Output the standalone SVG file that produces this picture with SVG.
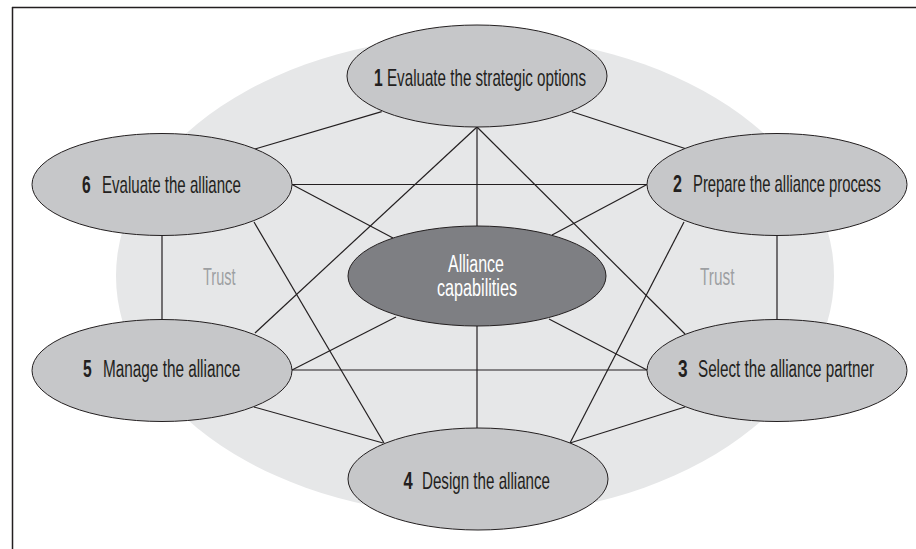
<svg xmlns="http://www.w3.org/2000/svg" width="916" height="549" viewBox="0 0 916 549">
<style>
.frame{stroke:#231f20;stroke-width:1.5;fill:none}
.bg{fill:#e6e7e8}
.conn line{stroke:#231f20;stroke-width:1.2}
.node{fill:#c6c7c9;stroke:#231f20;stroke-width:1}
.core{fill:#7e7f83;stroke:#231f20;stroke-width:1}
text{font-family:"Liberation Sans",Arial,sans-serif;font-size:23px}
.lbl{fill:#231f20}
.num{fill:#231f20;font-weight:bold}
.white{fill:#ffffff;text-anchor:middle}
.trust{fill:#9d9fa2}
</style>
<rect width="916" height="549" fill="#ffffff"/>
<line class="frame" x1="12" y1="7.5" x2="916" y2="7.5"/>
<line class="frame" x1="12.5" y1="7" x2="12.5" y2="549"/>
<ellipse class="bg" cx="475" cy="276" rx="359" ry="240"/>
<text class="trust" transform="translate(203,285) scale(0.63,1)" x="0" y="0">Trust</text>
<text class="trust" transform="translate(700,285) scale(0.668,1)" x="0" y="0">Trust</text>
<g id="connectors" class="conn">
<line x1="381.7" y1="111.7" x2="255" y2="149"/>
<line x1="572" y1="111.7" x2="685" y2="148.5"/>
<line x1="477" y1="127" x2="477" y2="226"/>
<line x1="477" y1="127" x2="255" y2="333"/>
<line x1="477" y1="127" x2="685" y2="334"/>
<line x1="292" y1="184.5" x2="647" y2="184.5"/>
<line x1="292" y1="184.5" x2="393" y2="238"/>
<line x1="254" y1="222" x2="384" y2="443"/>
<line x1="162" y1="236" x2="162" y2="319"/>
<line x1="647" y1="184.5" x2="552" y2="235"/>
<line x1="684" y1="222" x2="570" y2="443"/>
<line x1="777" y1="236" x2="777" y2="320"/>
<line x1="292" y1="370" x2="396" y2="317"/>
<line x1="292" y1="370" x2="647" y2="370"/>
<line x1="254" y1="407" x2="383" y2="443"/>
<line x1="647" y1="370" x2="549" y2="319"/>
<line x1="685" y1="407" x2="570" y2="443"/>
<line x1="477" y1="326" x2="477" y2="428"/>
</g>
<g id="node1">
<ellipse class="node" cx="477" cy="76" rx="130" ry="51"/>
<text class="num" transform="translate(374,86) scale(0.68,1)" x="0" y="0">1</text>
<text class="lbl" transform="translate(387,86) scale(0.66,1)" x="0" y="0">Evaluate the strategic options</text>
</g>
<g id="node2">
<ellipse class="node" cx="777" cy="184.5" rx="130" ry="51"/>
<text class="num" transform="translate(673,192) scale(0.7,1)" x="0" y="0">2</text>
<text class="lbl" transform="translate(693,192) scale(0.645,1)" x="0" y="0">Prepare the alliance process</text>
</g>
<g id="node3">
<ellipse class="node" cx="777" cy="370.5" rx="130" ry="51"/>
<text class="num" transform="translate(678,377) scale(0.75,1)" x="0" y="0">3</text>
<text class="lbl" transform="translate(698,377) scale(0.662,1)" x="0" y="0">Select the alliance partner</text>
</g>
<g id="node4">
<ellipse class="node" cx="478" cy="479" rx="130" ry="51"/>
<text class="num" transform="translate(403.5,489) scale(0.72,1)" x="0" y="0">4</text>
<text class="lbl" transform="translate(422,489) scale(0.659,1)" x="0" y="0">Design the alliance</text>
</g>
<g id="node5">
<ellipse class="node" cx="162" cy="370.5" rx="130" ry="51"/>
<text class="num" transform="translate(83,377) scale(0.68,1)" x="0" y="0">5</text>
<text class="lbl" transform="translate(103,377) scale(0.666,1)" x="0" y="0">Manage the alliance</text>
</g>
<g id="node6">
<ellipse class="node" cx="162" cy="184.5" rx="130" ry="51"/>
<text class="num" transform="translate(82,193) scale(0.68,1)" x="0" y="0">6</text>
<text class="lbl" transform="translate(102,193) scale(0.655,1)" x="0" y="0">Evaluate the alliance</text>
</g>
<g id="core">
<ellipse class="core" cx="477" cy="276" rx="129" ry="50"/>
<text class="white" transform="translate(476,272) scale(0.696,1)" x="0" y="0">Alliance</text>
<text class="white" transform="translate(477,296) scale(0.703,1)" x="0" y="0">capabilities</text>
</g>
</svg>
